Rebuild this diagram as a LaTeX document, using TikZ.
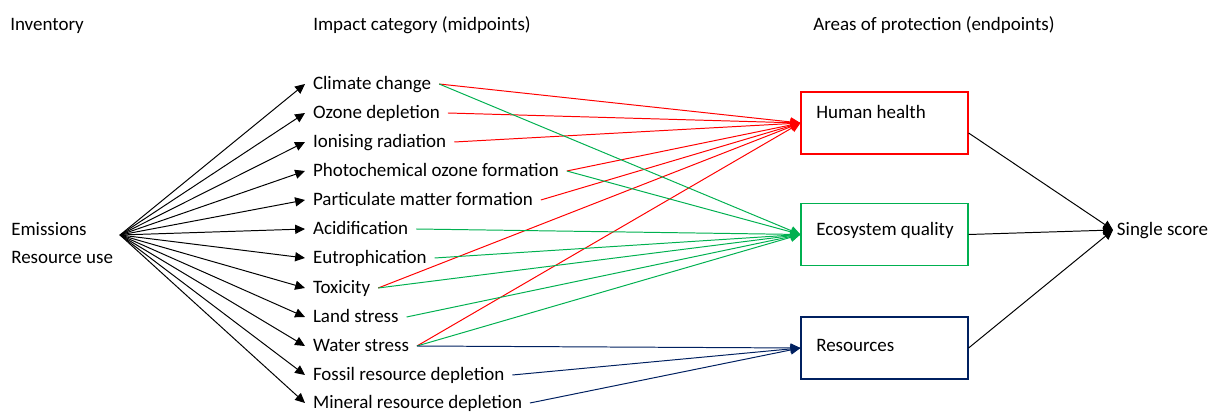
\documentclass[tikz,border=0pt]{standalone}
\usepackage{fontspec}
\setmainfont{Carlito}
\usetikzlibrary{arrows.meta}
\definecolor{hhred}{RGB}{255,0,0}
\definecolor{eqgreen}{RGB}{0,176,80}
\definecolor{resblue}{RGB}{0,32,96}
\tikzset{
  txt/.style={inner sep=0pt, text height=0.9em, text depth=0.1em, font=\fontsize{13.5}{16}\selectfont},
  cat/.style={txt, anchor=west, outer xsep=5.7pt},
  arr/.style={line width=0.7pt, -{Triangle[length=7pt,width=6.5pt]}},
  apbox/.style={draw=#1, line width=0.8pt, minimum width=4.175cm, minimum height=1.55cm, inner sep=0pt}
}
\begin{document}
\begin{tikzpicture}[x=0.025cm, y=-0.025cm]
    \useasboundingbox (0,0) rectangle (1217,412);
    % column headings
    \node[txt, anchor=west] at (10,25) {Inventory};
    \node[txt, anchor=west] at (313,25) {Impact category (midpoints)};
    \node[txt, anchor=west] at (813,25) {Areas of protection (endpoints)};
    % inventory
    \node[txt, anchor=west] (em) at (11,230) {Emissions};
    \node[txt, anchor=west] (ru) at (11,258) {Resource use};
    \coordinate (src) at (120,235);
    % midpoints
    \foreach \n/\y/\t in {cc/84/Climate change, od/113/Ozone depletion,
        ir/142/Ionising radiation, pof/171/Photochemical ozone formation,
        pmf/200/Particulate matter formation, ac/229/Acidification,
        eu/258/Eutrophication, tox/288/Toxicity, ls/317/Land stress,
        ws/346/Water stress, frd/375/Fossil resource depletion,
        mrd/403/Mineral resource depletion}
        \node[cat] (\n) at (305,\y) {\t};
    % endpoints
    \node[apbox=hhred] (hh) at (884.5,123) {};
    \node[apbox=eqgreen] (eq) at (884.5,234.5) {};
    \node[apbox=resblue] (res) at (884.5,348) {};
    \node[txt, anchor=west] (hhtxt) at (816,113) {Human health};
    \node[txt, anchor=west] (eqtxt) at (816,230) {Ecosystem quality};
    \node[txt, anchor=west] (restxt) at (816,346) {Resources};
    \node[txt, anchor=west, outer xsep=2.8pt] (ss) at (1113,230) {Single score};
    % connectors
    \foreach \n in {cc,od,ir,pof,pmf,ac,eu,tox,ls,ws,frd,mrd}
        \draw[arr] (src) -- (\n.west);
    \foreach \n in {cc,od,ir,pof,pmf,tox,ws}
        \draw[arr, hhred] (\n.east) -- (hh.west);
    \foreach \n in {cc,pof,ac,eu,tox,ls,ws}
        \draw[arr, eqgreen] (\n.east) -- (eq.west);
    \foreach \n in {ws,frd,mrd}
        \draw[arr, resblue] (\n.east) -- (res.west);
    \draw[arr] ([yshift=-0.25cm]hh.east) -- (ss.west);
    \draw[arr] (eq.east) -- (ss.west);
    \draw[arr] (res.east) -- (ss.west);
\end{tikzpicture}
\end{document}
